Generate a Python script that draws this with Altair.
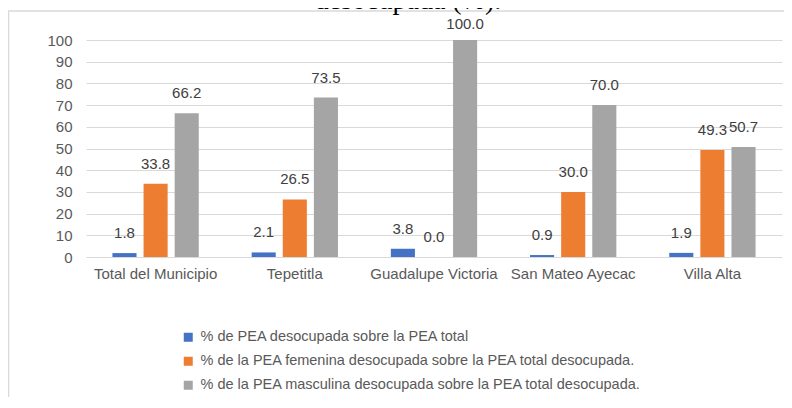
import altair as alt
import pandas as pd

categories = ["Total del Municipio", "Tepetitla", "Guadalupe Victoria", "San Mateo Ayecac", "Villa Alta"]
series = [
    "% de PEA desocupada sobre la PEA total",
    "% de la PEA femenina desocupada sobre la PEA total desocupada.",
    "% de la PEA masculina desocupada sobre la PEA total desocupada.",
]
pea_total = [1.8, 2.1, 3.8, 0.9, 1.9]
pea_femenina = [33.8, 26.5, 0.0, 30.0, 49.3]
pea_masculina = [66.2, 73.5, 100.0, 70.0, 50.7]
colors = ["#4472C4", "#ED7D31", "#A5A5A5"]
y_ticks = [0, 10, 20, 30, 40, 50, 60, 70, 80, 90, 100]
title_text = "desocupada (%)."

rows = []
for s, vals in zip(series, [pea_total, pea_femenina, pea_masculina]):
    for c, v in zip(categories, vals):
        rows.append({"cat": c, "serie": s, "value": v})
df = pd.DataFrame(rows)

FONT = "Liberation Sans"

x_enc = alt.X("cat:N", sort=categories, title=None,
              scale=alt.Scale(paddingInner=0.38, paddingOuter=0.19),
              axis=alt.Axis(labelAngle=0, domain=False, ticks=False, grid=False,
                            labelFont=FONT, labelFontSize=15, labelColor="#595959",
                            labelPadding=9, labelOverlap=False, labelLimit=400, labelBound=False))
xo_enc = alt.XOffset("serie:N", sort=series,
                     scale=alt.Scale(paddingInner=0.226, paddingOuter=0))

base = alt.Chart(df)

bars = base.mark_bar().encode(
    x=x_enc,
    xOffset=xo_enc,
    y=alt.Y("value:Q", title=None,
            scale=alt.Scale(domain=[0, 100], nice=False),
            axis=alt.Axis(values=y_ticks, tickCount=11, domain=False, ticks=False, grid=True,
                          gridColor="#D9D9D9", gridWidth=1, labelOverlap=False,
                          labelFont=FONT, labelFontSize=15, labelColor="#595959",
                          labelPadding=14)),
    color=alt.Color("serie:N", sort=series,
                    scale=alt.Scale(domain=series, range=colors),
                    legend=alt.Legend(title=None, orient="none", legendX=95, legendY=290,
                                      direction="vertical", symbolType="square",
                                      symbolSize=81, symbolStrokeWidth=0,
                                      labelFont=FONT, labelFontSize=14.5,
                                      labelColor="#595959", rowPadding=9,
                                      padding=0, labelOffset=5, labelLimit=700)),
)

labels = base.transform_calculate(
    ly="min(datum.value, 98.2)"
).mark_text(font=FONT, fontSize=15, color="#404040", dy=-20, baseline="middle").encode(
    x=alt.X("cat:N", sort=categories),
    xOffset=alt.XOffset("serie:N", sort=series),
    y=alt.Y("ly:Q"),
    text=alt.Text("value:Q", format=".1f"),
)

frame = alt.Chart(pd.DataFrame({"a": [0]}))
top_line = frame.mark_rule(color="#D9D9D9", strokeWidth=1.5).encode(
    x=alt.value(-78), x2=alt.value(760), y=alt.value(-29)
)
left_line = frame.mark_rule(color="#D9D9D9", strokeWidth=1.5).encode(
    x=alt.value(-77.5), y=alt.value(-29), y2=alt.value(400)
)

title = alt.Chart(pd.DataFrame({"t": [title_text]})).mark_text(
    font="Liberation Serif", fontSize=28, color="#000000", baseline="alphabetic", align="center"
).encode(
    x=alt.value(322), y=alt.value(-31), text="t:N"
)

chart = alt.layer(top_line, left_line, bars, labels, title).properties(
    width=696, height=217,
    autosize=alt.AutoSizeParams(type="none"),
    padding={"left": 78, "top": 32, "right": 2, "bottom": 140},
).configure_view(stroke=None)

chart.save("out.html", embed_options={"renderer": "svg", "actions": False})
